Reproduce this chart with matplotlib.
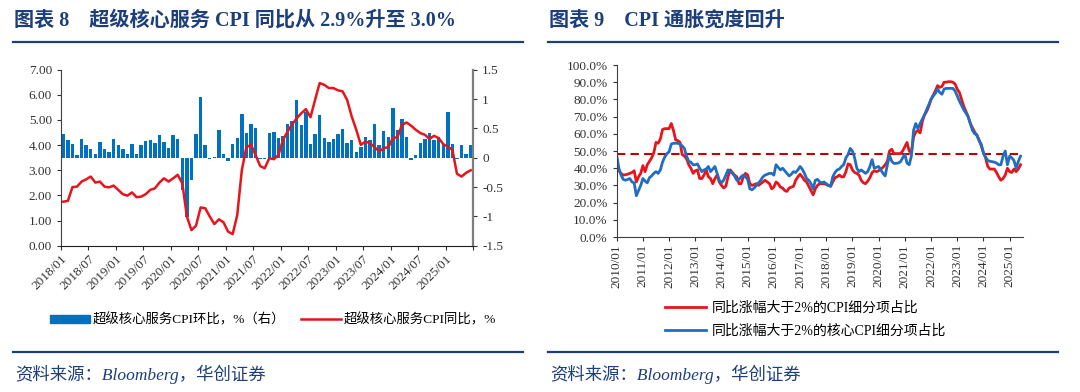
import matplotlib
matplotlib.use('Agg')
import matplotlib.pyplot as plt
from matplotlib.lines import Line2D
from matplotlib.patches import Patch
import numpy as np

plt.rcParams['font.family'] = ['Liberation Serif', 'Noto Sans CJK SC']
plt.rcParams['axes.unicode_minus'] = False

# ---- chart 8: supercore services CPI, 2018/01 - 2025/06 ----
sc_mom = [0.41, 0.31, 0.24, 0.05, 0.32, 0.22, 0.15, 0.06, 0.26, 0.14, 0.10, 0.32,
          0.22, 0.15, 0.06, 0.24, 0.06, 0.22, 0.28, 0.31, 0.25, 0.39, 0.27, 0.17,
          0.39, 0.32, -0.55, -1.01, -0.38, 0.41, 1.04, 0.21, -0.03, 0.02, 0.47, 0.07,
          -0.05, 0.23, 0.34, 0.75, 0.42, 0.58, 0.51, -0.03, -0.03, 0.42, 0.44, 0.34,
          0.37, 0.58, 0.63, 0.98, 0.56, 0.78, 0.24, 0.41, 0.72, 0.34, 0.27, 0.32,
          0.41, 0.49, 0.25, 0.30, 0.09, 0.19, 0.35, 0.30, 0.58, 0.21, 0.45, 0.35,
          0.85, 0.48, 0.66, 0.36, -0.04, 0.04, 0.25, 0.32, 0.42, 0.30, 0.35, 0.23,
          0.78, 0.24, -0.02, 0.21, 0.06, 0.21]
sc_yoy = [1.75, 1.78, 2.33, 2.35, 2.55, 2.64, 2.75, 2.51, 2.55, 2.35, 2.32, 2.39,
          2.22, 2.05, 1.99, 2.12, 1.93, 1.95, 2.05, 2.22, 2.28, 2.51, 2.68, 2.55,
          2.68, 2.82, 2.48, 1.16, 0.62, 0.80, 1.52, 1.49, 1.16, 0.86, 1.05, 0.93,
          0.56, 0.46, 1.22, 3.01, 3.92, 4.01, 3.61, 3.17, 3.08, 3.48, 3.44, 3.61,
          4.21, 4.54, 4.83, 5.07, 5.27, 5.43, 5.11, 5.80, 6.47, 6.40, 6.27, 6.27,
          6.18, 6.14, 5.80, 5.14, 4.61, 4.01, 4.14, 4.08, 3.92, 3.75, 3.88, 3.92,
          4.28, 4.32, 4.81, 4.90, 4.77, 4.61, 4.48, 4.41, 4.25, 4.37, 4.28, 4.04,
          3.94, 3.81, 2.86, 2.75, 2.90, 3.00]
left_xlabels = ['2018/01', '2018/07', '2019/01', '2019/07', '2020/01', '2020/07',
                '2021/01', '2021/07', '2022/01', '2022/07', '2023/01', '2023/07',
                '2024/01', '2024/07', '2025/01', '']

# ---- chart 9: CPI breadth, 2010/01 - 2025/06, % ----
breadth_all = [41, 38.5, 37, 36, 36.2, 36.5, 37, 37.5, 38.5, 32, 35, 37,
               41.5, 38, 42, 44, 46, 49, 55, 54.5, 57, 62.5, 63, 63,
               63, 66, 62, 56.5, 56, 55, 48, 47, 45.5, 42, 40, 37,
               38.5, 39, 34, 34, 36, 39, 35, 34, 31, 34, 36, 32,
               30, 28.5, 29.5, 35, 39, 37.5, 36, 35, 31, 31, 35, 37,
               36, 31, 30, 30.5, 31, 30, 31, 32, 33, 32, 31, 28,
               29, 32, 31, 29, 28.5, 27, 26.5, 28.5, 29, 29.5, 33, 35,
               36.5, 35, 33, 32, 29.5, 27, 24.5, 28, 30, 31, 31, 31,
               30.5, 30, 29.5, 32, 34.5, 35, 36, 35, 35, 38, 42.5, 42,
               39, 37.5, 37, 36, 33, 31.5, 31, 32.5, 34.5, 37.5, 38.5, 38,
               38.5, 39.5, 40.5, 42, 44, 50, 51, 48.5, 48.5, 48.5, 48.5, 50,
               52.5, 55, 50, 49, 58, 61, 62, 60.5, 67, 71, 73, 76,
               80, 82.5, 85, 88, 87, 87.5, 90, 90, 90.3, 90.3, 90, 89,
               86, 84, 80, 76, 73, 70, 66, 63.5, 61, 59, 56.5, 53,
               49, 46, 41, 39.5, 39.5, 39.5, 37.5, 35, 33, 34, 36, 40,
               38, 37.5, 39.5, 38, 39.5, 42]
breadth_core = [47.5, 40, 36, 33.5, 33, 33.5, 34, 32, 31.5, 24, 27, 30,
                34, 32.5, 31.5, 34.5, 35.5, 37, 38, 37, 39, 43.5, 46.5, 48.5,
                49.5, 54, 54.5, 54.5, 54.5, 54, 53, 51.5, 47, 44, 43.5, 42,
                42, 42.5, 40, 38, 39, 39.5, 41, 38, 39.5, 41, 37, 33,
                31.5, 33, 36, 39, 38, 37, 35.5, 33, 33.5, 35, 36, 35,
                33.5, 28, 27.5, 28.5, 30, 31.5, 33, 35, 36, 36.5, 37, 37,
                36, 42, 40.5, 39, 40, 38.5, 37, 35.5, 36.5, 38, 37.5, 39,
                41, 39.5, 37, 34, 33, 31, 28, 33, 33.5, 32, 31.5, 32,
                31, 30, 29.5, 35, 37.5, 39, 39.5, 41, 42, 46, 48, 51.5,
                50, 46, 40, 38, 39, 38, 37, 38, 41, 45, 40, 40.5,
                41, 39, 37, 35.5, 42, 47.5, 44, 42.8, 42.8, 43, 43.8, 46,
                48, 43, 42, 47, 62, 66, 63, 66, 68.5, 71, 74, 77,
                80, 82, 83.5, 86, 84, 83, 86, 86.4, 86.4, 86.4, 86.4, 85,
                82, 79, 76.5, 74, 72, 70, 66, 62, 60, 59.5, 56, 54,
                49, 46.5, 44.5, 44, 43.8, 43.5, 43, 42, 42, 47, 50, 42,
                47, 46, 44.5, 40, 44, 47]
breadth_ref = 48
right_xlabels = ['2010/01', '2011/01', '2012/01', '2013/01', '2014/01', '2015/01',
                 '2016/01', '2017/01', '2018/01', '2019/01', '2020/01', '2021/01',
                 '2022/01', '2023/01', '2024/01', '2025/01']

NAVY = '#1C3F7C'
BAR_BLUE = '#0070C0'
RED = '#E8141C'
LINE_BLUE = '#1F6EC1'
TXT = '#333333'
W, H = 1080, 392


def fx(px):
    return px / W


def fy(py):
    return 1 - py / H


fig = plt.figure(figsize=(W / 100, H / 100), dpi=100)

# headers / footers
for x0, x1, title in [(13, 523, '图表 8    超级核心服务 CPI 同比从 2.9%升至 3.0%'),
                      (548, 1058, '图表 9    CPI 通胀宽度回升')]:
    fig.text(fx(x0 + 1), fy(21), title, fontsize=14.5, weight='bold', color=NAVY, va='center')
    fig.add_artist(Line2D([fx(x0), fx(x1)], [fy(42), fy(42)], color=NAVY, lw=1.6))
    fig.add_artist(Line2D([fx(x0), fx(x1)], [fy(352), fy(352)], color=NAVY, lw=1.6))
    fig.text(fx(x0 + 2), fy(374), '资料来源：Bloomberg，华创证券', fontsize=12.5,
             style='italic', color=NAVY, va='center')

# ---- left chart ----
ax1 = fig.add_axes([fx(61), fy(245.7), fx(412), 176 / H])
ax1r = ax1.twinx()
x = np.arange(len(sc_mom))
ax1r.bar(x, sc_mom, width=0.75, color=BAR_BLUE)
ax1.plot(x, sc_yoy, color=RED, lw=1.8)
ax1.set_zorder(ax1r.get_zorder() + 1)
ax1.patch.set_visible(False)

ax1.set_ylim(0, 7)
ax1.set_yticks(np.arange(0, 7.01, 1))
ax1.set_yticklabels([f'{v:.2f}' for v in np.arange(0, 7.01, 1)])
ax1r.set_ylim(-1.5, 1.5)
rt = [-1.5, -1, -0.5, 0, 0.5, 1, 1.5]
ax1r.set_yticks(rt)
ax1r.set_yticklabels([f'{v:g}' for v in rt])
ax1.set_xlim(-0.5, len(sc_mom) - 0.5)
ax1.set_xticks(np.arange(-0.5, len(sc_mom), 6))
ax1.set_xticklabels(left_xlabels, rotation=45, ha='right', rotation_mode='anchor')

for a in (ax1, ax1r):
    a.spines['top'].set_visible(False)
    a.tick_params(direction='out', length=3, labelsize=9.5, colors=TXT, width=0.8)
ax1.tick_params(axis='x', labelsize=9.5, pad=2)
ax1.spines['right'].set_visible(False)
ax1.spines['left'].set_color('#404040')
ax1.spines['bottom'].set_color('#202020')
ax1r.spines['left'].set_visible(False)
ax1r.spines['bottom'].set_visible(False)
ax1r.spines['right'].set_color('#7F7F7F')
ax1r.spines['right'].set_linewidth(1.6)

h1 = [Patch(color=BAR_BLUE), Line2D([], [], color=RED, lw=1.8)]
fig.legend(h1, ['超级核心服务CPI环比，%（右）', '超级核心服务CPI同比，%'], ncol=2,
           loc='center', bbox_to_anchor=(fx(273), fy(320)), frameon=False, fontsize=9.6,
           handlelength=3.0, handleheight=0.6, columnspacing=1.2, handletextpad=0.2)

# ---- right chart ----
ax2 = fig.add_axes([fx(616.7), fy(237), fx(406), 172 / H])
m = np.arange(len(breadth_all))
ax2.axhline(breadth_ref, color='#C00000', lw=1.5, ls=(0, (4, 2.5)))
ax2.plot(m, breadth_all, color=RED, lw=2.0)
ax2.plot(m, breadth_core, color=LINE_BLUE, lw=2.0)
ax2.set_ylim(0, 100)
ax2.set_yticks(np.arange(0, 101, 10))
ax2.set_yticklabels([f'{v:.1f}%' for v in np.arange(0, 101, 10)])
ax2.set_xlim(0, len(breadth_all))
ax2.set_xticks(np.arange(0, len(breadth_all), 12))
ax2.set_xticklabels(right_xlabels, rotation=90)
for s in ('top', 'right'):
    ax2.spines[s].set_visible(False)
ax2.spines['left'].set_color('#404040')
ax2.spines['bottom'].set_color('#404040')
ax2.tick_params(direction='out', length=3, labelsize=9.5, colors=TXT, width=0.8)
ax2.tick_params(axis='x', labelsize=9.5, pad=2)

h2 = [Line2D([], [], color=RED, lw=2.0), Line2D([], [], color=LINE_BLUE, lw=2.0)]
fig.legend(h2, ['同比涨幅大于2%的CPI细分项占比', '同比涨幅大于2%的核心CPI细分项占比'],
           loc='upper left', bbox_to_anchor=(fx(652), fy(289)), frameon=False, fontsize=10,
           handlelength=3.0, handletextpad=0.4, labelspacing=0.7)

fig.savefig('out.png', dpi=100)
